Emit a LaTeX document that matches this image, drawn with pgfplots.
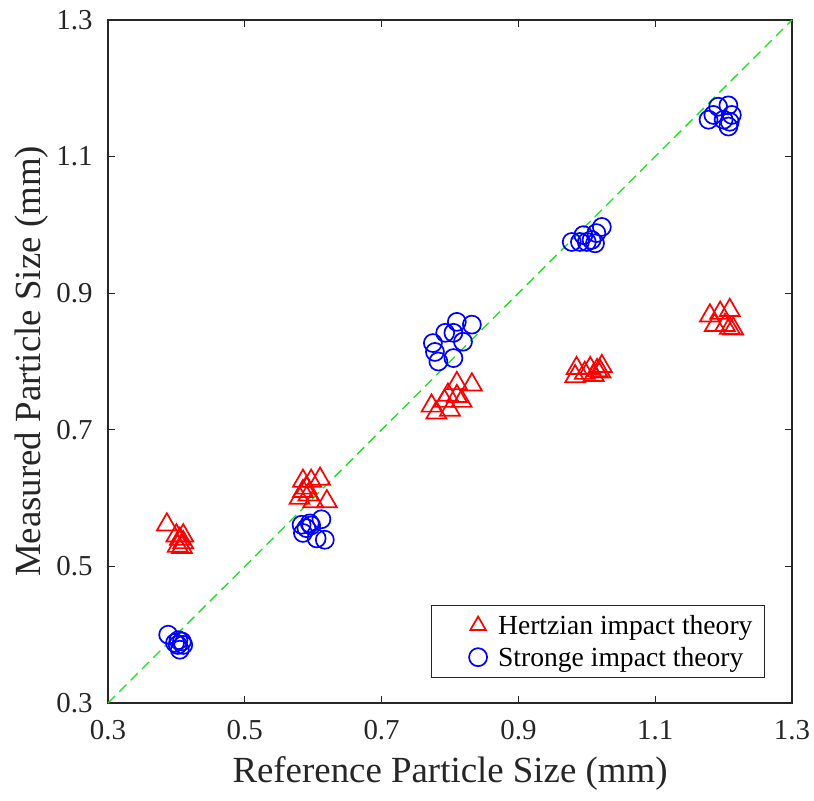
\documentclass[border=0pt]{standalone}
\usepackage{pgfplots}
\pgfplotsset{compat=1.18}
\usepackage{fontspec}
\setmainfont{Liberation Serif}
\definecolor{axgray}{rgb}{0.15,0.15,0.15}
\definecolor{lgreen}{rgb}{0.1,0.88,0.1}
\begin{document}
\begin{tikzpicture}[x=1bp,y=1bp]
\begin{axis}[
  name=ax,
  width=684bp, height=683bp, scale only axis,
  xmin=0.3, xmax=1.3, ymin=0.3, ymax=1.3,
  xtick={0.3,0.5,0.7,0.9,1.1,1.3},
  ytick={0.3,0.5,0.7,0.9,1.1,1.3},
  xticklabels={0.3,0.5,0.7,0.9,1.1,1.3},
  yticklabels={0.3,0.5,0.7,0.9,1.1,1.3},
  tick align=inside,
  major tick length=7bp,
  axis line style={axgray, line width=1.4bp},
  every tick/.style={axgray, line width=1.2bp},
  tick label style={font=\fontsize{29}{30}\selectfont, text=axgray},
  xticklabel style={yshift=-14bp},
  yticklabel style={xshift=-12bp},
  xlabel={Reference Particle Size (mm)},
  ylabel={Measured Particle Size (mm)},
  label style={font=\fontsize{37}{40}\selectfont, text=axgray},
  xlabel style={at={(axis description cs:0.5,-0.1025)}, anchor=center},
  ylabel style={at={(axis description cs:-0.112,0.5)}, anchor=center},
  legend style={at={(axis cs:1.2605,0.3366)}, anchor=south east, draw=axgray, line width=1bp,
    font=\fontsize{27.7}{32}\selectfont, inner xsep=8bp, inner ysep=8bp,
    cells={anchor=west}, row sep=7bp, nodes={inner xsep=4bp, inner ysep=2bp}},
  legend image code/.code={\path[draw=none] (0bp,0bp) -- (55bp,0bp); \draw[#1, mark size=9bp, only marks] plot coordinates {(39bp,0bp)};},
  clip=false,
]
\addplot[lgreen, dash pattern=on 10bp off 6bp, line width=1.3bp, forget plot] coordinates {(0.3,0.3) (1.3,1.3)};
\addplot[only marks, red, mark=triangle, mark size=11.5bp, line width=1.7bp,
  mark options={solid}] coordinates {
(0.386,0.561) (0.400,0.545) (0.405,0.540) (0.410,0.545) (0.402,0.530) (0.408,0.528) (0.410,0.535)
(0.585,0.625) (0.597,0.625) (0.610,0.628) (0.585,0.610) (0.593,0.605) (0.580,0.600) (0.600,0.595) (0.620,0.595) (0.590,0.615)
(0.810,0.768) (0.832,0.766) (0.797,0.751) (0.810,0.749) (0.817,0.742) (0.773,0.735) (0.780,0.725) (0.800,0.729) (0.792,0.742)
(0.985,0.790) (0.983,0.778) (0.997,0.783) (1.005,0.790) (1.010,0.780) (1.015,0.787) (1.022,0.793) (1.020,0.785)
(1.209,0.875) (1.195,0.871) (1.180,0.867) (1.187,0.853) (1.202,0.853) (1.209,0.849) (1.214,0.848)
};
\addlegendentry{Hertzian impact theory}
\addplot[only marks, blue, mark=o, mark size=9bp, line width=1.7bp] coordinates {
(0.388,0.400) (0.402,0.385) (0.405,0.378) (0.408,0.390) (0.410,0.385) (0.403,0.392) (0.398,0.388)
(0.583,0.561) (0.595,0.563) (0.612,0.569) (0.585,0.549) (0.605,0.541) (0.617,0.539) (0.590,0.556) (0.597,0.560)
(0.832,0.854) (0.810,0.858) (0.805,0.842) (0.793,0.842) (0.819,0.829) (0.775,0.827) (0.778,0.814) (0.805,0.805) (0.783,0.800)
(1.022,0.997) (1.014,0.988) (0.995,0.985) (1.007,0.978) (0.978,0.975) (0.990,0.975) (1.000,0.975) (1.012,0.973)
(1.207,1.175) (1.192,1.173) (1.185,1.161) (1.178,1.154) (1.212,1.161) (1.209,1.151) (1.207,1.144) (1.200,1.154)
};
\addlegendentry{Stronge impact theory}
\end{axis}
\path[use as bounding box] ([shift={(-108bp,-98bp)}]ax.south west) rectangle ([shift={(22bp,20bp)}]ax.north east);
\end{tikzpicture}
\end{document}
